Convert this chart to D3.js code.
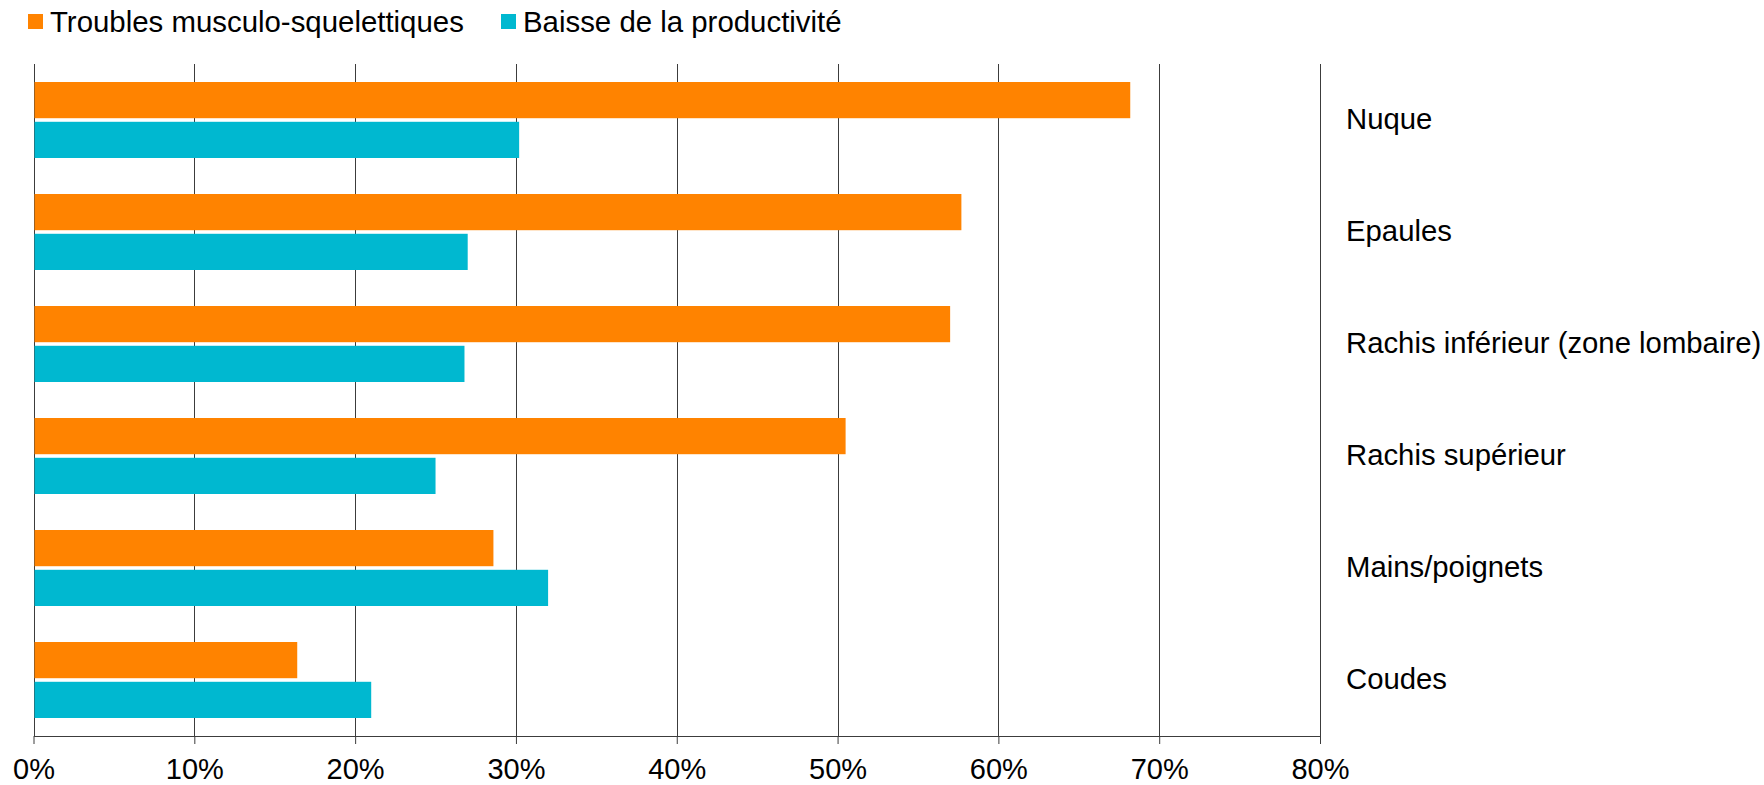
<!DOCTYPE html>
<html>
<head>
<meta charset="utf-8">
<script src="https://cdn.jsdelivr.net/npm/d3@7"></script>
<style>
  body { margin: 0; background: #fff; }
  text { font-family: "Liberation Sans", Arial, sans-serif; fill: #000; }
</style>
</head>
<body>
<svg id="chart"></svg>
<script>
let categories = ["Nuque", "Epaules", "Rachis inférieur (zone lombaire)", "Rachis supérieur", "Mains/poignets", "Coudes"]
let series_names = ["Troubles musculo-squelettiques", "Baisse de la productivité"]
let series_colors = ["#ff8300", "#00b8d0"]
let troubles = [68.2, 57.7, 57.0, 50.5, 28.6, 16.4]
let productivite = [30.2, 27.0, 26.8, 25.0, 32.0, 21.0]
let x_ticks = [0, 10, 20, 30, 40, 50, 60, 70, 80]

window.onload = function() {
  let width = 1764, height = 785
  let left = 33.5, right = 1320, top = 64, bottom = 736
  let grid_color = "#3c3c3c"

  let svg = d3.select("#chart").attr("width", width).attr("height", height)

  let x = d3.scaleLinear().domain([0, 80]).range([left, right])
  let y = d3.scaleBand().domain(categories).range([top, bottom]).padding(0)
  let y_inner = d3.scaleBand().domain([0, 1]).range([18, y.bandwidth() - 18]).paddingInner(0.09)

  // gridlines
  svg.append("g").selectAll("line").data(x_ticks).join("line")
    .attr("x1", d => Math.round(x(d)) + 0.5).attr("x2", d => Math.round(x(d)) + 0.5)
    .attr("y1", top).attr("y2", bottom)
    .attr("stroke", grid_color).attr("stroke-width", 1)

  // bars
  let rows = categories.map((c, i) => ({cat: c, values: [troubles[i], productivite[i]]}))
  let groups = svg.append("g").selectAll("g").data(rows).join("g")
    .attr("transform", d => `translate(0,${y(d.cat)})`)
  groups.selectAll("rect").data(d => d.values).join("rect")
    .attr("x", x(0) + 1)
    .attr("y", (d, i) => y_inner(i))
    .attr("width", d => x(d) - x(0) - 1)
    .attr("height", y_inner.bandwidth())
    .attr("fill", (d, i) => series_colors[i])

  // x axis
  let axis = svg.append("g").attr("transform", `translate(0,${bottom})`)
    .call(d3.axisBottom(x).tickValues(x_ticks).tickFormat(d => d + "%").tickSize(8).tickPadding(14).tickSizeOuter(0))
  axis.select(".domain").attr("stroke", grid_color)
  axis.selectAll(".tick line").attr("stroke", grid_color)
  axis.selectAll(".tick text").attr("font-size", 29).attr("fill", "#000")
    .attr("font-family", "Liberation Sans, Arial, sans-serif")

  // category labels on the right
  svg.append("g").selectAll("text").data(categories).join("text")
    .attr("x", 1346)
    .attr("y", d => y(d) + y.bandwidth() / 2 + 9)
    .attr("font-size", 29.3)
    .text(d => d)

  // legend
  let legend_x = [28, 501]
  let legend = svg.append("g").selectAll("g").data(series_names).join("g")
    .attr("transform", (d, i) => `translate(${legend_x[i]},0)`)
  legend.append("rect").attr("x", 0).attr("y", 14).attr("width", 15).attr("height", 15)
    .attr("fill", (d, i) => series_colors[i])
  legend.append("text").attr("x", 22).attr("y", 31.5).attr("font-size", 29.4).text(d => d)
}
</script>
</body>
</html>
